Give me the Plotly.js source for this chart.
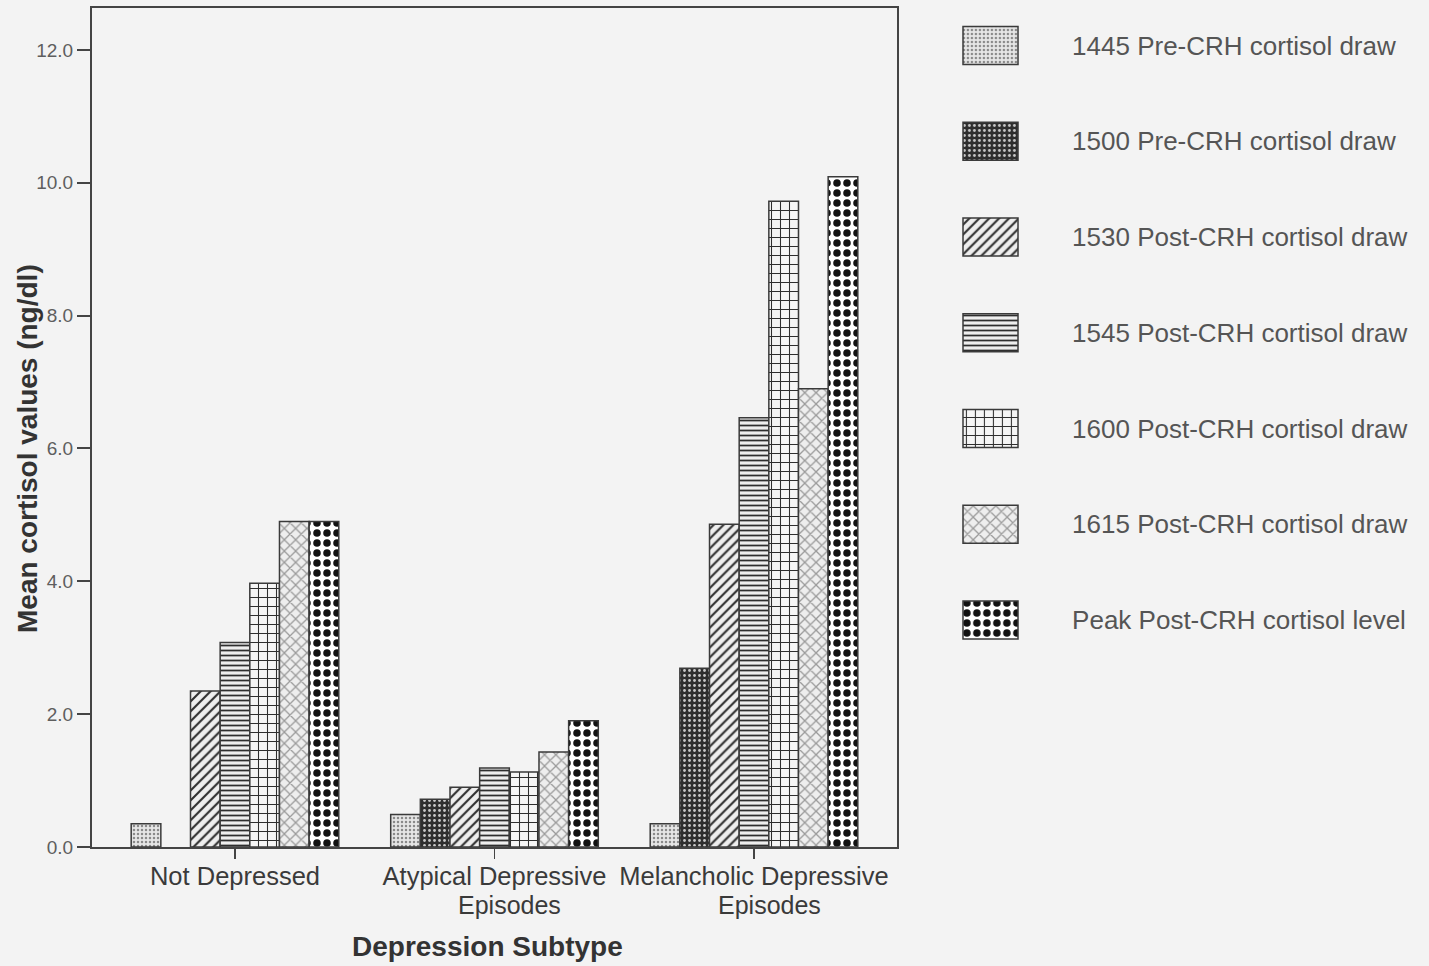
<!DOCTYPE html>
<html>
<head>
<meta charset="utf-8">
<script src="https://cdn.plot.ly/plotly-3.0.1.min.js"></script>
<style>html,body{margin:0;padding:0;background:#f3f3f3;}</style>
</head>
<body>
<div id="chart" style="width:1429px;height:966px;"></div>
<script>
// ---- data ----
const categories = ["Not Depressed", "Atypical Depressive", "Melancholic Depressive"];
const categoryLine2 = ["", "Episodes", "Episodes"];
const seriesNames = [
  "1445 Pre-CRH cortisol draw",
  "1500 Pre-CRH cortisol draw",
  "1530 Post-CRH cortisol draw",
  "1545 Post-CRH cortisol draw",
  "1600 Post-CRH cortisol draw",
  "1615 Post-CRH cortisol draw",
  "Peak Post-CRH cortisol level"
];
const draw1445 = [0.35, 0.49, 0.35];
const draw1500 = [null, 0.72, 2.69];
const draw1530 = [2.35, 0.90, 4.86];
const draw1545 = [3.08, 1.19, 6.46];
const draw1600 = [3.97, 1.13, 9.72];
const draw1615 = [4.90, 1.43, 6.90];
const peakLevel = [4.90, 1.90, 10.09];
const seriesValues = [draw1445, draw1500, draw1530, draw1545, draw1600, draw1615, peakLevel];
const yTickValues = [0, 2, 4, 6, 8, 10, 12];
const xTitle = "Depression Subtype";
const yTitle = "Mean cortisol values (ng/dl)";

// ---- styles ----
const patterns = [
  {shape: ".", fg: "#8a8a8a", bg: "#e6e6e6", size: 4, solidity: 0.3},
  {shape: ".", fg: "#c8c8c8", bg: "#2e2e2e", size: 5, solidity: 0.25},
  {shape: "/", fg: "#2e2e2e", bg: "#eeeeee", size: 7, solidity: 0.3},
  {shape: "-", fg: "#2e2e2e", bg: "#eeeeee", size: 5, solidity: 0.35},
  {shape: "+", fg: "#2e2e2e", bg: "#f5f5f5", size: 9, solidity: 0.22},
  {shape: "x", fg: "#9a9a9a", bg: "#eeeeee", size: 8, solidity: 0.3},
  {shape: ".", fg: "#111111", bg: "#ffffff", size: 10, solidity: 0.45}
];
const outline = {color: "#3a3a3a", width: 1.5};

const traces = [];
seriesNames.forEach((name, i) => {
  const p = patterns[i];
  traces.push({
    type: "bar", name: name,
    x: categories.map((c, k) => k), y: seriesValues[i],
    xaxis: "x", yaxis: "y",
    marker: {color: p.bg, line: outline,
      pattern: {shape: p.shape, fgcolor: p.fg, bgcolor: p.bg, size: p.size, solidity: p.solidity, fillmode: "replace"}},
    hoverinfo: "skip", showlegend: false
  });
});
// legend swatches drawn in a side subplot
const swatchValue = seriesNames.map(() => 1);
seriesNames.forEach((name, i) => {
  const p = patterns[i];
  traces.push({
    type: "bar", orientation: "h", name: name,
    y: [i], x: [swatchValue[i]], width: 0.397,
    xaxis: "x2", yaxis: "y2",
    marker: {color: p.bg, line: outline,
      pattern: {shape: p.shape, fgcolor: p.fg, bgcolor: p.bg, size: p.size, solidity: p.solidity, fillmode: "replace"}},
    hoverinfo: "skip", showlegend: false
  });
});

const annotations = [];
categoryLine2.forEach((t, k) => {
  if (t) annotations.push({text: t, x: k, xref: "x", y: -0.0691, yref: "paper",
    xanchor: "center", yanchor: "middle", xshift: 15, showarrow: false,
    font: {family: "Liberation Sans, Arial, sans-serif", size: 25, color: "#3a3a3a"}});
});
annotations.push({text: "<b>" + xTitle + "</b>", x: 0.298, y: -0.118, xref: "paper", yref: "paper",
  xanchor: "center", yanchor: "middle", showarrow: false,
  font: {family: "Liberation Sans, Arial, sans-serif", size: 28, color: "#333"}});
annotations.push({text: "<b>" + yTitle + "</b>", x: -0.0482, y: 0.4744, xref: "paper", yref: "paper",
  xanchor: "center", yanchor: "middle", textangle: -90, showarrow: false,
  font: {family: "Liberation Sans, Arial, sans-serif", size: 28, color: "#333"}});

const layout = {
  width: 1429, height: 966,
  margin: {l: 92, r: 10, t: 8, b: 119},
  paper_bgcolor: "#f3f3f3", plot_bgcolor: "#f3f3f3",
  barmode: "group", bargap: 0.2, bargroupgap: 0,
  font: {family: "Liberation Sans, Arial, sans-serif", color: "#444"},
  xaxis: {domain: [0, 0.60663], range: [-0.551, 2.551],
    tickvals: categories.map((c, k) => k), ticktext: categories,
    ticks: "outside", ticklen: 10, tickwidth: 1.5, tickcolor: "#444",
    ticklabelstandoff: -5,
    showline: true, mirror: true, linecolor: "#444", linewidth: 2,
    showgrid: false, zeroline: false,
    tickfont: {size: 25.5, color: "#3a3a3a"}},
  yaxis: {range: [0, 12.63], tickvals: yTickValues, tickformat: ".1f",
    ticks: "outside", ticklen: 13, tickwidth: 2, tickcolor: "#444",
    showline: true, mirror: true, linecolor: "#444", linewidth: 2,
    showgrid: false, zeroline: false,
    tickfont: {size: 19, color: "#5e5e5e"}},
  xaxis2: {domain: [0.65554, 0.69865], anchor: "y2", range: [-0.02, 1.02],
    showgrid: false, zeroline: false, showline: false, showticklabels: false, ticks: ""},
  yaxis2: {domain: [0, 1], anchor: "x2", side: "right", range: [8.371, -0.392],
    tickvals: seriesNames.map((n, i) => i), ticktext: seriesNames,
    ticks: "", showgrid: false, zeroline: false, showline: false,
    ticklabelstandoff: 52,
    tickfont: {size: 26, color: "#555"}},
  annotations: annotations
};

Plotly.newPlot("chart", traces, layout, {displayModeBar: false, staticPlot: true});
</script>
</body>
</html>
